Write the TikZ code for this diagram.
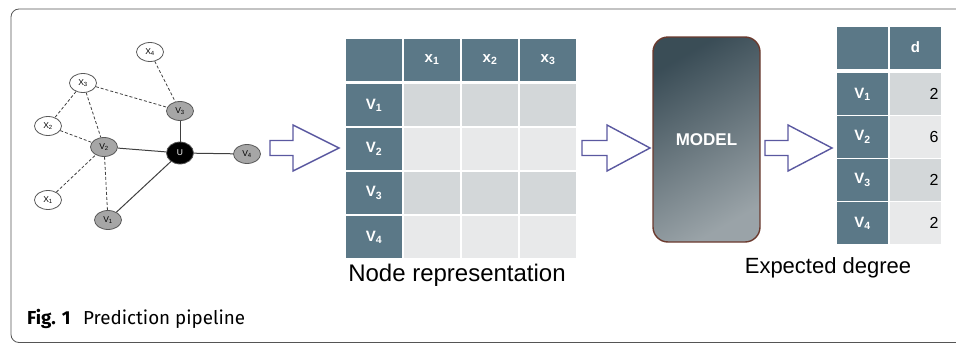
\documentclass[tikz,border=0pt]{standalone}
\usepackage{fontspec}
\setmainfont{Liberation Sans}
\newfontfamily\capfont{Fira Sans}
\usetikzlibrary{shapes.geometric}
\definecolor{hdrc}{HTML}{5B7887}
\definecolor{rowa}{HTML}{D3D7D9}
\definecolor{rowb}{HTML}{E8E9EA}
\definecolor{arrc}{HTML}{5A58A0}
\definecolor{modbrd}{HTML}{6B3A2E}
\definecolor{framec}{HTML}{555555}
\tikzset{
  gnode/.style={ellipse, draw=black!65, line width=0.8pt, minimum width=27, minimum height=19, inner sep=0pt, font=\fontsize{8.5}{9}\selectfont},
  xn/.style={gnode, fill=white},
  vn/.style={gnode, fill=black!35},
  un/.style={gnode, fill=black, text=white, minimum width=27, minimum height=22},
  dedge/.style={draw=black!75, line width=0.8pt, dash pattern=on 3pt off 2pt},
  sedge/.style={draw=black!75, line width=1pt},
  cell/.style={minimum height=42, inner sep=0pt, font=\fontsize{15}{16}\selectfont\bfseries, text=white},
  hcell/.style={cell, fill=hdrc},
  blockarrow/.style={draw=arrc, line width=1.4pt, fill=white, line join=miter},
}
\begin{document}
\begin{tikzpicture}[x=1pt,y=-1pt]
\useasboundingbox (0,0) rectangle (956,343);
\begin{scope}
\clip (0,0) rectangle (956,343);
\draw[framec, line width=0.8pt, rounded corners=8] (970,9) -- (11,9) -- (11,342.5) -- (970,342.5);
\end{scope}

% graph
\node[xn] (x4) at (150,52) {X\textsubscript{4}};
\node[xn] (x3) at (83,83) {X\textsubscript{3}};
\node[xn] (x2) at (48,126) {X\textsubscript{2}};
\node[xn] (x1) at (48,200) {X\textsubscript{1}};
\node[vn] (v3) at (180,111) {V\textsubscript{3}};
\node[vn] (v2) at (104,147) {V\textsubscript{2}};
\node[vn] (v1) at (108,220) {V\textsubscript{1}};
\node[vn] (v4) at (247,154) {V\textsubscript{4}};
\node[un] (u) at (180,153) {U};
\draw[dedge] (x4) -- (v3);
\draw[dedge] (x3) -- (v3);
\draw[dedge] (x3) -- (x2);
\draw[dedge] (x3) -- (v2);
\draw[dedge] (x2) -- (v2);
\draw[dedge] (x1) -- (v2);
\draw[dedge] (v2) -- (v1);
\draw[sedge] (v3) -- (u);
\draw[sedge] (v2) -- (u);
\draw[sedge] (v1) -- (u);
\draw[sedge] (u) -- (v4);

% block arrows
\foreach \xs/\xh/\xt in {270/293/339, 582/607/650, 765/788/832}{
  \draw[blockarrow] (\xs,140.5) -- (\xh,140.5) -- (\xh,125) -- (\xt,148) -- (\xh,171) -- (\xh,155.5) -- (\xs,155.5) -- cycle;
}

% table 1
\node[hcell, minimum width=56] (t00) at (374,59.5) {};
\node[hcell, minimum width=56] (t01) at (432,59.5) {x\textsubscript{1}};
\node[hcell, minimum width=56] (t02) at (490,59.5) {x\textsubscript{2}};
\node[hcell, minimum width=56] (t03) at (548,59.5) {x\textsubscript{3}};
\foreach \r/\yc/\rc in {1/105/rowa, 2/149/rowb, 3/193/rowa, 4/237/rowb}{
  \node[hcell, minimum width=56] (t\r0) at (374,\yc) {V\textsubscript{\r}};
  \node[cell, fill=\rc, minimum width=56] (t\r1) at (432,\yc) {};
  \node[cell, fill=\rc, minimum width=56] (t\r2) at (490,\yc) {};
  \node[cell, fill=\rc, minimum width=56] (t\r3) at (548,\yc) {};
}
\node[font=\fontsize{24}{26}\selectfont] (lab1) at (457,275) {Node representation};

% model
\node[draw=modbrd, line width=1.4pt, rounded corners=15, minimum width=107, minimum height=205,
  top color=black!20!hdrc!80!black, bottom color=hdrc!45!gray!70, shading angle=30,
  font=\fontsize{17}{18}\selectfont\bfseries, text=white] (model) at (706.5,139.5) {MODEL};

% table 2
\node[hcell, minimum width=51] (s00) at (862.5,47.5) {};
\node[hcell, minimum width=51] (s01) at (915.5,47.5) {d};
\foreach \r/\yc/\rc/\v in {1/94/rowa/2, 2/137/rowb/6, 3/180/rowa/2, 4/223/rowb/2}{
  \node[hcell, minimum width=51] (s\r0) at (862.5,\yc) {V\textsubscript{\r}};
  \node[cell, fill=\rc, minimum width=51, text=black, font=\fontsize{16}{17}\selectfont, align=right, text width=46] (s\r1) at (915.5,\yc) {\v};
}
\node[font=\fontsize{22}{24}\selectfont] (lab2) at (828,268) {Expected degree};

% caption
\node[anchor=west, font=\capfont\fontsize{18.8}{20}\selectfont, inner sep=0pt] (cap) at (27,319) {\textbf{Fig. 1}\hspace{0.4em} Prediction pipeline};
\end{tikzpicture}
\end{document}
